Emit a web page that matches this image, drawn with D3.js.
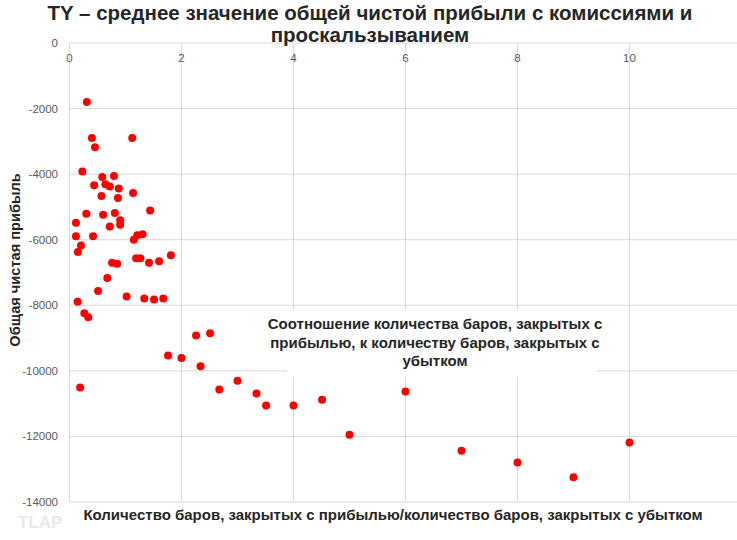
<!DOCTYPE html>
<html>
<head>
<meta charset="utf-8">
<script src="https://cdn.jsdelivr.net/npm/d3@7"></script>
<style>
body{margin:0;background:#fff;}
text{font-family:"Liberation Sans",Arial,sans-serif;}
</style>
</head>
<body>
<svg id="chart" width="737" height="540"></svg>
<script>
// ratio of winning bars to losing bars
const ratio = [0.31,0.40,0.455,0.23,1.12,0.585,0.795,0.44,0.64,0.72,0.88,0.57,0.865,1.135,1.44,0.30,0.60,0.81,0.115,0.905,
    0.905,0.72,0.115,0.42,1.15,1.21,1.305,0.205,0.15,0.76,0.85,1.19,1.265,1.42,1.60,1.81,0.675,0.145,0.265,0.335,
    0.51,1.02,1.335,1.51,1.675,0.19,1.76,2.0,2.26,2.51,2.34,2.675,3.0,3.34,3.51,4.0,4.51,5.0,6.0,7.0,
    8.0,9.0,10.0];
// average net profit
const profit = [-1800,-2900,-3180,-3920,-2900,-4090,-4060,-4340,-4310,-4380,-4440,-4670,-4730,-4575,-5110,-5205,-5235,-5185,-5480,-5405,
    -5540,-5600,-5895,-5895,-6000,-5865,-5835,-6180,-6375,-6700,-6730,-6565,-6565,-6700,-6655,-6475,-7170,-7890,-8240,-8365,
    -7565,-7735,-7795,-7825,-7795,-10510,-9535,-9605,-8925,-8850,-9860,-10570,-10305,-10690,-11060,-11060,-10885,-11950,-10630,-12440,
    -12795,-13245,-12185];
const xTicks = [0,2,4,6,8,10,12];
const yTicks = [0,-2000,-4000,-6000,-8000,-10000,-12000,-14000];

const titleLines = ["TY \u2013 среднее значение общей чистой прибыли с комиссиями и", "проскальзыванием"];
const xTitle = "Количество баров, закрытых с прибылью/количество баров, закрытых с убытком";
const yTitle = "Общая чистая прибыль";
const noteLines = ["Соотношение количества баров, закрытых с", "прибылью, к количеству баров, закрытых с", "убытком"];

const svg = d3.select("#chart");
const pLeft = 69.5, pTop = 43, pBottom = 502;
const x = d3.scaleLinear().domain([0,12]).range([pLeft, pLeft + 12*56]);
const y = d3.scaleLinear().domain([0,-14000]).range([pTop, pBottom]);

// gridlines
let g = svg.append("g");
g.selectAll(".vg").data(xTicks).join("line").attr("class","vg")
    .attr("x1", d=>x(d)).attr("x2", d=>x(d)).attr("y1", pTop).attr("y2", pBottom)
    .attr("stroke", "#d9d9d9").attr("stroke-width", 1);
g.selectAll(".hg").data(yTicks).join("line").attr("class","hg")
    .attr("x1", pLeft).attr("x2", 737).attr("y1", d=>y(d)).attr("y2", d=>y(d))
    .attr("stroke", "#d9d9d9").attr("stroke-width", 1);

// tick labels
svg.selectAll(".yl").data(yTicks).join("text").attr("class","yl")
    .attr("x", 58).attr("y", d=>y(d)).attr("dy", "0.35em")
    .attr("text-anchor", "end").attr("font-size", 11.5).attr("fill", "#595959")
    .text(d=>d);
svg.selectAll(".xl").data(xTicks.slice(0,6)).join("text").attr("class","xl")
    .attr("x", d=>x(d)).attr("y", 58).attr("dy", "0.35em")
    .attr("text-anchor", "middle").attr("font-size", 11.5).attr("fill", "#595959")
    .text(d=>d);

// points
svg.selectAll("circle").data(ratio).join("circle")
    .attr("cx", d=>x(d)).attr("cy", (d,i)=>y(profit[i])).attr("r", 4)
    .attr("fill", "#ff0000");

// annotation box over the grid
svg.append("rect").attr("x", 287).attr("y", 310).attr("width", 310).attr("height", 67).attr("fill", "#fff");
svg.selectAll(".note").data(noteLines).join("text").attr("class","note")
    .attr("x", 435).attr("y", (d,i)=>329 + i*18.5)
    .attr("text-anchor", "middle").attr("font-size", 15).attr("font-weight", "bold").attr("fill", "#262626")
    .text(d=>d);

// titles
svg.selectAll(".title").data(titleLines).join("text").attr("class","title")
    .attr("x", 370).attr("y", (d,i)=>20 + i*22)
    .attr("text-anchor", "middle").attr("font-size", 20.5).attr("font-weight", "bold").attr("fill", "#262626")
    .text(d=>d);
svg.append("text").attr("x", 393).attr("y", 520)
    .attr("text-anchor", "middle").attr("font-size", 15).attr("font-weight", "bold").attr("fill", "#262626")
    .text(xTitle);
svg.append("text").attr("transform", "translate(20,260) rotate(-90)")
    .attr("text-anchor", "middle").attr("font-size", 14.6).attr("font-weight", "bold").attr("fill", "#262626")
    .text(yTitle);

// watermark
svg.append("text").attr("x", 18).attr("y", 528).attr("font-size", 17).attr("font-weight", "bold")
    .attr("fill", "#e8e8e8").text("TLAP");
</script>
</body>
</html>
